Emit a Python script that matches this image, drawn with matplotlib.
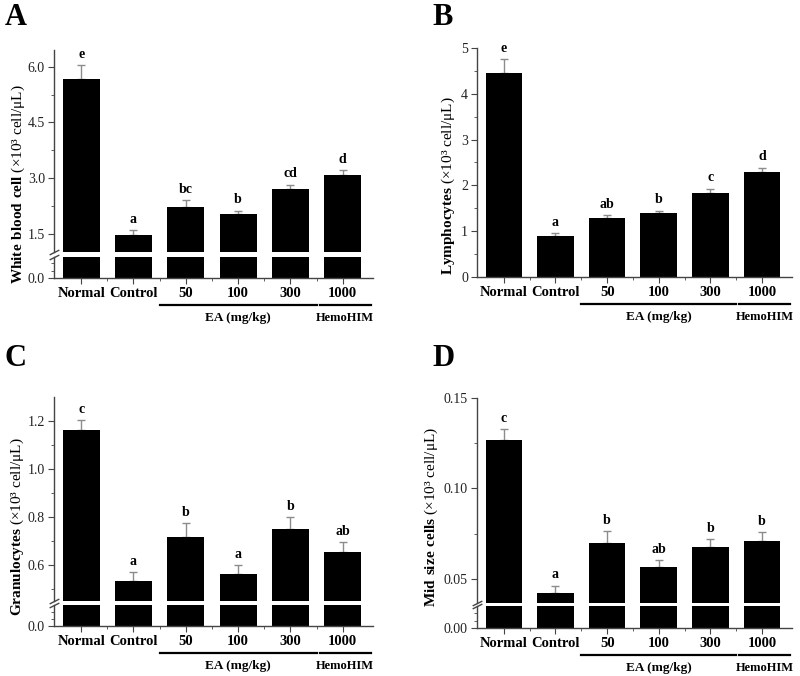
import matplotlib
matplotlib.use("Agg")
import matplotlib.pyplot as plt
import numpy as np
from matplotlib.ticker import FixedLocator, FormatStrFormatter
from matplotlib.transforms import offset_copy

plt.rcParams['font.family'] = ['Liberation Serif', 'DejaVu Serif']
plt.rcParams['mathtext.fontset'] = 'custom'
plt.rcParams['mathtext.rm'] = 'Liberation Serif'
plt.rcParams['mathtext.bf'] = 'Liberation Serif:bold'

groups = ['Normal', 'Control', '50', '100', '300', '1000']

# A - white blood cell
wbc_mean = [5.67, 1.48, 2.23, 2.05, 2.70, 3.10]
wbc_err = [0.38, 0.12, 0.19, 0.08, 0.13, 0.12]
wbc_sig = ['e', 'a', 'bc', 'b', 'cd', 'd']

# B - lymphocytes
lym_mean = [4.46, 0.89, 1.28, 1.39, 1.83, 2.29]
lym_err = [0.30, 0.07, 0.08, 0.06, 0.10, 0.10]
lym_sig = ['e', 'a', 'ab', 'b', 'c', 'd']

# C - granulocytes
gra_mean = [1.163, 0.535, 0.715, 0.564, 0.749, 0.655]
gra_err = [0.041, 0.035, 0.059, 0.036, 0.052, 0.039]
gra_sig = ['c', 'a', 'b', 'a', 'b', 'ab']

# D - mid size cells
mid_mean = [0.1267, 0.0421, 0.0699, 0.0564, 0.0679, 0.0707]
mid_err = [0.0060, 0.0042, 0.0066, 0.0039, 0.0043, 0.0054]
mid_sig = ['c', 'a', 'b', 'ab', 'b', 'b']

W, H = 800, 676
fig = plt.figure(figsize=(8, 6.76), dpi=100)

axis_col = '#444444'
x = np.arange(len(groups))


def rect(x0, x1, ytop, ybot):
    return [x0 / W, 1 - ybot / H, (x1 - x0) / W, (ybot - ytop) / H]


def style(ax):
    for s in ['top', 'right']:
        ax.spines[s].set_visible(False)
    for s in ['left', 'bottom']:
        ax.spines[s].set_color(axis_col)
        ax.spines[s].set_linewidth(1)
    ax.tick_params(which='both', direction='out', color=axis_col, labelcolor='#222222', labelsize=10)
    ax.tick_params(which='major', length=4, pad=2.5)
    ax.tick_params(which='minor', length=2)
    ax.set_xlim(-0.52, 5.58)


def bars(ax, mean, err, sig):
    ax.bar(x, mean, width=0.71, color='black', zorder=2)
    ax.errorbar(x, mean, yerr=[np.zeros(len(mean)), err], fmt='none', ecolor='#8c8c8c',
                elinewidth=1, capsize=3, capthick=1, zorder=1)
    for i in range(len(x)):
        ax.annotate(sig[i], (x[i], mean[i] + err[i]), xytext=(0, 3), textcoords='offset points',
                    ha='center', va='bottom', fontsize=10, fontweight='bold')


def xaxis(ax):
    ax.set_xticks(x)
    ax.set_xticklabels(groups, fontweight='bold', fontsize=10.5, color='black')
    ax.xaxis.set_minor_locator(FixedLocator(x[:-1] + 0.5))
    tr = offset_copy(ax.get_xaxis_transform(), fig=fig, y=-27, units='dots')
    ax.plot([1.5, 4.5], [0, 0], transform=tr, color='black', lw=1.6, clip_on=False)
    ax.plot([4.56, 5.54], [0, 0], transform=tr, color='black', lw=1.6, clip_on=False)
    tr2 = offset_copy(ax.get_xaxis_transform(), fig=fig, y=-40, units='dots')
    ax.text(3.0, 0, 'EA (mg/kg)', transform=tr2, ha='center', va='center', fontsize=9.5, fontweight='bold')
    ax.text(5.05, 0, 'HemoHIM', transform=tr2, ha='center', va='center', fontsize=9, fontweight='bold')


def broken_panel(r_top, r_low, mean, err, sig, ylim, ticks, minor, fmt, low_top, low_minor, zero_lab):
    ax = fig.add_axes(r_top)
    axl = fig.add_axes(r_low)
    for a in (ax, axl):
        style(a)
        bars(a, mean, err, sig if a is ax else [''] * len(x))
    ax.set_ylim(*ylim)
    ax.set_yticks(ticks)
    ax.yaxis.set_major_formatter(FormatStrFormatter(fmt))
    ax.yaxis.set_minor_locator(FixedLocator(minor))
    ax.spines['bottom'].set_visible(False)
    ax.tick_params(axis='x', which='both', bottom=False, labelbottom=False)
    axl.set_ylim(0, low_top)
    axl.set_yticks([0])
    axl.set_yticklabels([zero_lab])
    axl.yaxis.set_minor_locator(FixedLocator(low_minor))
    xaxis(axl)
    mk = dict(marker=[(-1, -0.5), (1, 0.5)], markersize=7, linestyle='none',
              color=axis_col, mec=axis_col, mew=1, clip_on=False)
    ax.plot([0], [0], transform=ax.transAxes, **mk)
    axl.plot([0], [1], transform=axl.transAxes, **mk)
    return ax


# Panel A
broken_panel(rect(54, 373, 50, 252), rect(54, 373, 257, 278), wbc_mean, wbc_err, wbc_sig,
             (1.015, 6.45), [1.5, 3.0, 4.5, 6.0], [2.25, 3.75, 5.25], '%.1f',
             0.57, [0.2, 0.4], '0.0')
fig.text(18 / W, 1 - 184 / H, r'$\mathbf{White\ blood\ cell}$ (×10³ cell/μL)', rotation=90,
         ha='center', va='center', fontsize=11)

# Panel B
axb = fig.add_axes(rect(477, 792, 48, 277))
style(axb)
bars(axb, lym_mean, lym_err, lym_sig)
axb.set_ylim(0, 5)
axb.set_yticks([0, 1, 2, 3, 4, 5])
axb.yaxis.set_minor_locator(FixedLocator(np.arange(0.5, 5, 1.0)))
xaxis(axb)
fig.text(448 / W, 1 - 186 / H, r'$\mathbf{Lymphocytes}$ (×10³ cell/μL)', rotation=90,
         ha='center', va='center', fontsize=11)

# Panel C
broken_panel(rect(54, 373, 397, 601), rect(54, 373, 605, 626), gra_mean, gra_err, gra_sig,
             (0.45, 1.3), [0.6, 0.8, 1.0, 1.2], [0.5, 0.7, 0.9, 1.1], '%.1f',
             0.09, [0.03, 0.06], '0.0')
fig.text(17 / W, 1 - 527 / H, r'$\mathbf{Granulocytes}$ (×10³ cell/μL)', rotation=90,
         ha='center', va='center', fontsize=11)

# Panel D
broken_panel(rect(477, 792, 398, 603), rect(477, 792, 606, 628), mid_mean, mid_err, mid_sig,
             (0.0367, 0.15), [0.05, 0.10, 0.15], [0.075, 0.125], '%.2f',
             0.012, [0.004, 0.008], '0.00')
fig.text(431 / W, 1 - 517 / H, r'$\mathbf{Mid\ size\ cells}$ (×10³ cell/μL)', rotation=90,
         ha='center', va='center', fontsize=11)

# panel letters
for lx, ly, lab in [(5, 3, 'A'), (432, 3, 'B'), (5, 344, 'C'), (432, 344, 'D')]:
    fig.text(lx / W, 1 - ly / H, lab, ha='left', va='top', fontsize=22, fontweight='bold')

fig.savefig('out.png', dpi=100)
